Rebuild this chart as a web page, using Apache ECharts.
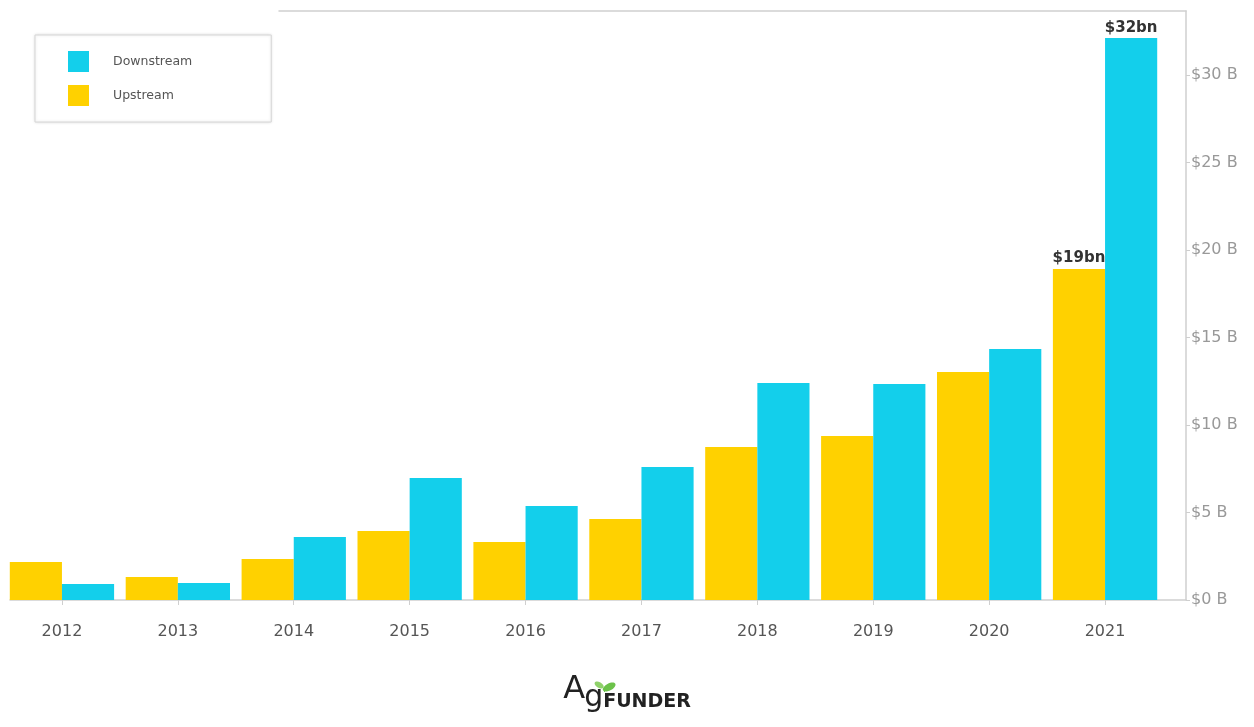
<!DOCTYPE html>
<html>
<head>
<meta charset="utf-8">
<script src="https://cdn.jsdelivr.net/npm/echarts@6/dist/echarts.min.js"></script>
<style>
html,body{margin:0;padding:0;background:#fff;}
#chart{width:1254px;height:727px;}
</style>
</head>
<body>
<div id="chart"></div>
<script>
const years = ['2012','2013','2014','2015','2016','2017','2018','2019','2020','2021'];
const upstream = [2.17, 1.31, 2.34, 3.94, 3.31, 4.63, 8.74, 9.37, 13.03, 18.91];
const downstream = [0.91, 0.97, 3.6, 6.97, 5.37, 7.6, 12.4, 12.34, 14.34, 32.11];
const upstreamLabels = ['', '', '', '', '', '', '', '', '', '$19bn'];
const downstreamLabels = ['', '', '', '', '', '', '', '', '', '$32bn'];
const yTicks = [0, 5, 10, 15, 20, 25, 30];

const FONT = 'DejaVu Sans';
const frameColor = '#cfcfcf';

function withLabels(vals, labels) {
  return vals.map((v, i) => labels[i] ? {
    value: v,
    label: {show: true, position: 'top', formatter: labels[i], fontFamily: FONT, fontWeight: 'bold', fontSize: 15, color: '#333', distance: 3}
  } : v);
}

const chart = echarts.init(document.getElementById('chart'));
chart.setOption({
  animation: false,
  backgroundColor: '#fff',
  legend: {
    orient: 'vertical',
    left: 35, top: 35,
    padding: [16, 79, 16, 33],
    itemWidth: 21, itemHeight: 21, itemGap: 13,
    borderColor: '#d6d6d6', borderWidth: 1,
    shadowColor: 'rgba(0,0,0,0.12)', shadowBlur: 3,
    backgroundColor: '#fff',
    icon: 'rect',
    data: ['Downstream', 'Upstream'],
    textStyle: {fontFamily: FONT, fontSize: 12.5, color: '#555', padding: [0, 0, 0, 19]}
  },
  grid: [
    {left: 4, right: 91, top: 11, bottom: 127},
    {left: 10, right: 68, top: 11, bottom: 127},
    {left: 279, right: 68, top: 11, bottom: 127}
  ],
  xAxis: [
    {
      type: 'category', data: years, gridIndex: 0,
      axisLine: {show: false},
      axisTick: {show: true, alignWithLabel: true, length: 5, lineStyle: {color: frameColor}},
      axisLabel: {fontFamily: FONT, fontSize: 16, color: '#555', margin: 24}
    },
    {
      type: 'value', gridIndex: 1, min: 0, max: 1, position: 'bottom',
      axisLine: {show: true, onZero: false, lineStyle: {color: frameColor, width: 1.5}},
      axisTick: {show: false}, axisLabel: {show: false}, splitLine: {show: false}
    },
    {
      type: 'value', gridIndex: 2, min: 0, max: 1, position: 'top',
      axisLine: {show: true, onZero: false, lineStyle: {color: frameColor, width: 1.5}},
      axisTick: {show: false}, axisLabel: {show: false}, splitLine: {show: false}
    }
  ],
  yAxis: [
    {
      type: 'value', gridIndex: 0, min: 0, max: 33.66, interval: 5,
      position: 'right', offset: 23,
      axisLine: {show: true, lineStyle: {color: frameColor, width: 1.5}},
      axisTick: {show: true, length: 4, customValues: yTicks, lineStyle: {color: frameColor}},
      splitLine: {show: false},
      axisLabel: {
        fontFamily: FONT, fontSize: 16, color: '#999', margin: 5,
        formatter: v => yTicks.includes(v) ? '$' + v + ' B' : ''
      }
    },
    {type: 'value', gridIndex: 1, show: false, min: 0, max: 1},
    {type: 'value', gridIndex: 2, show: false, min: 0, max: 1}
  ],
  series: [
    {
      name: 'Upstream', type: 'bar', xAxisIndex: 0, yAxisIndex: 0,
      data: withLabels(upstream, upstreamLabels),
      itemStyle: {color: '#ffd100'},
      barGap: '0%', barCategoryGap: '10%'
    },
    {
      name: 'Downstream', type: 'bar', xAxisIndex: 0, yAxisIndex: 0,
      data: withLabels(downstream, downstreamLabels),
      itemStyle: {color: '#13cfeb'},
      barGap: '0%', barCategoryGap: '10%'
    }
  ],
  graphic: [
    {
      type: 'group', left: 'center', top: 674,
      children: [
        {type: 'text', left: 0, top: 0, style: {text: 'A', font: '32px "DejaVu Sans"', fill: '#222'}},
        {type: 'text', left: 21, top: 9, style: {text: 'g', font: '30px "DejaVu Sans"', fill: '#222'}},
        {type: 'ellipse', shape: {cx: 46, cy: 13, rx: 7, ry: 3.5}, rotation: 0.5, originX: 46, originY: 13, style: {fill: '#6cc24a'}},
        {type: 'ellipse', shape: {cx: 36, cy: 11, rx: 5, ry: 2.8}, rotation: -0.5, originX: 36, originY: 11, style: {fill: '#8fd16a'}},
        {type: 'text', left: 40, top: 19, style: {text: 'FUNDER', font: 'bold 19px "DejaVu Sans"', fill: '#222'}}
      ]
    }
  ]
});
</script>
</body>
</html>
